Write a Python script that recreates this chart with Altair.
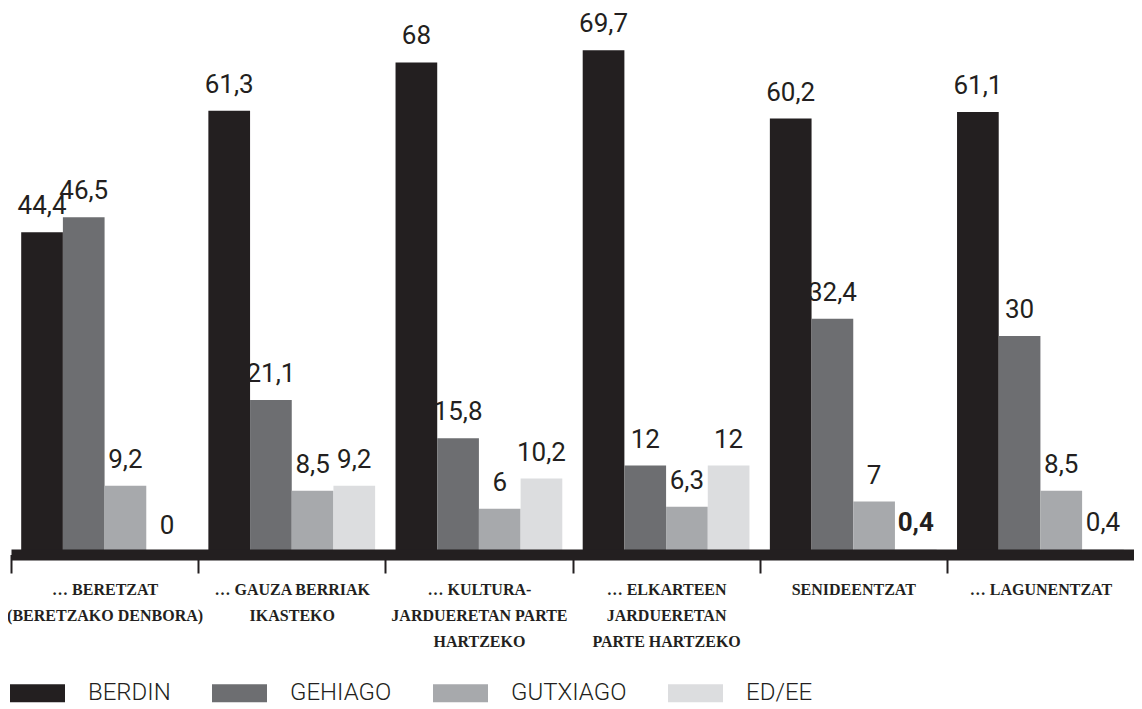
import altair as alt
import pandas as pd

categories = [
    "… BERETZAT|(BERETZAKO DENBORA)",
    "… GAUZA BERRIAK|IKASTEKO",
    "… KULTURA-|JARDUERETAN PARTE|HARTZEKO",
    "… ELKARTEEN|JARDUERETAN|PARTE HARTZEKO",
    "SENIDEENTZAT",
    "… LAGUNENTZAT",
]
series = ["BERDIN", "GEHIAGO", "GUTXIAGO", "ED/EE"]
berdin = [44.4, 61.3, 68, 69.7, 60.2, 61.1]
gehiago = [46.5, 21.1, 15.8, 12, 32.4, 30]
gutxiago = [9.2, 8.5, 6, 6.3, 7, 8.5]
ed_ee = [0, 9.2, 10.2, 12, 0.4, 0.4]
colors = ["#231f20", "#6d6e71", "#a7a9ac", "#dcdddf"]

rows = []
for i, c in enumerate(categories):
    for s, vals in zip(series, [berdin, gehiago, gutxiago, ed_ee]):
        v = vals[i]
        rows.append({"cat": c, "ci": i, "series": s, "value": v,
                     "label": f"{v:g}".replace(".", ",")})
df = pd.DataFrame(rows)

x = alt.X(
    "cat:N", sort=categories, title=None,
    scale=alt.Scale(paddingInner=0.109, paddingOuter=0.0545),
    axis=alt.Axis(
        title=None, grid=False, labelAngle=0, zindex=1,
        domainWidth=11, domainColor="#231f20", domainCap="butt", offset=2.5,
        tickColor="#231f20", tickWidth=2, tickSize=18.5,
        bandPosition=0, tickOffset=-10.2, labelOffset=10.2,
        labelExpr="split(datum.label, '|')",
        labelFont="Liberation Serif", labelFontSize=16, labelFontWeight="bold",
        labelLineHeight=26,
        labelColor="#231f20", labelPadding=8, labelBaseline="top",
        labelLimit=0,
    ),
)
xo = alt.XOffset("series:N", sort=series,
                 scale=alt.Scale(paddingInner=0, paddingOuter=0))
y = alt.Y("value:Q", scale=alt.Scale(domain=[0, 75], nice=False, zero=True),
          axis=None)
color = alt.Color(
    "series:N", sort=series,
    scale=alt.Scale(domain=series, range=colors),
    legend=alt.Legend(
        title=None, orient="none", direction="horizontal", columns=4,
        legendX=-1, legendY=653.5, padding=0,
        symbolType="M-1,-0.33L1,-0.33L1,0.33L-1,0.33Z",
        symbolSize=3025, symbolStrokeWidth=0, symbolOpacity=1,
        labelFont="Roboto", labelFontSize=24, labelFontWeight=300,
        labelColor="#231f20", labelOffset=23, columnPadding=41,
    ),
)

bars = alt.Chart(df).mark_bar().encode(x=x, xOffset=xo, y=y, color=color)

bold_test = "datum.ci == 4 && datum.series == 'ED/EE'"

text = alt.Chart(df).transform_filter("!(" + bold_test + ")").mark_text(
    baseline="alphabetic", dy=-18, font="Roboto", fontSize=26, color="#231f20"
).encode(x=x, xOffset=xo, y=y, text="label:N")

text_bold = alt.Chart(df).transform_filter(bold_test).mark_text(
    baseline="alphabetic", dy=-18, font="Roboto", fontSize=26,
    fontWeight="bold", color="#231f20"
).encode(x=x, xOffset=xo, y=y, text="label:N")

chart = (
    alt.layer(bars, text, text_bold)
    .properties(
        width=1123, height=540,
        padding={"left": 3, "top": 4, "right": 0, "bottom": 157},
        autosize=alt.AutoSizeParams(type="none"),
        background="white",
    )
    .configure_view(stroke=None)
)

chart.save("out.html", embed_options={"renderer": "svg", "actions": False})
